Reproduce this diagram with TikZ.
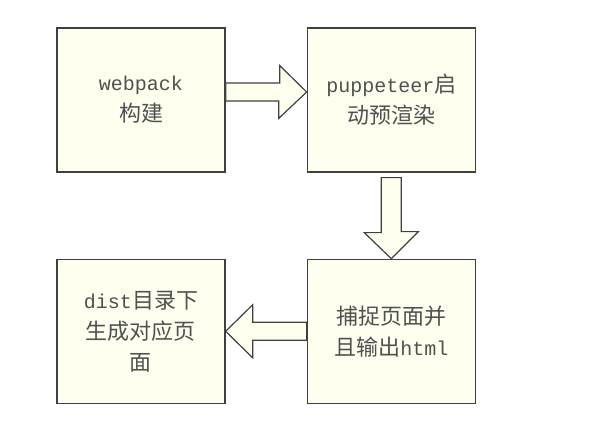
\documentclass[tikz,border=0pt]{standalone}
\usepackage{fontspec}
\setmainfont{Liberation Mono}
\newfontfamily\cjk[Scale=1.1]{Noto Sans CJK SC}
\usepackage{xcolor}
\usepackage{tikz}
\usetikzlibrary{positioning}

\definecolor{boxfill}{HTML}{FFFFF0}
\definecolor{boxline}{HTML}{404040}
\definecolor{boxtext}{HTML}{505050}

\begin{document}
\begin{tikzpicture}[
        x=1pt, y=1pt,
        node distance=81pt,
        % Node styles
        stage/.style={rectangle, draw=boxline, line width=1.3pt, fill=boxfill,
                      minimum width=168pt, minimum height=144pt, inner sep=0pt,
                      align=center, text=boxtext,
                      font=\fontsize{20}{31}\selectfont},
        bigarrow/.style={draw=boxline, line width=1.2pt, fill=boxfill, line join=miter}
    ]
        \useasboundingbox (0,0) rectangle (590,425);

        % Stage boxes
        \node[stage] (build) at (141,325) {webpack\\{\cjk 构建}};
        \node[stage, right=of build] (render) {puppeteer{\cjk 启}\\{\cjk 动预渲染}};
        \node[stage, below=86pt of render] (capture) {{\cjk 捕捉页面并}\\{\cjk 且输出}html};
        \node[stage, left=of capture] (output) {dist{\cjk 目录下}\\{\cjk 生成对应页}\\{\cjk 面}};

        % Block arrows
        \draw[bigarrow] ([yshift=8pt]render.west) -- ++(-27,26.5) -- ++(0,-17.5)
            -- ([yshift=17pt]build.east) -- ([yshift=-1pt]build.east) -- ++(53,0)
            -- ++(0,-17.5) -- cycle;
        \draw[bigarrow] (capture.north) -- ++(-27,26) -- ++(17,0)
            -- ([xshift=-10pt, yshift=-5pt]render.south) -- ([xshift=10pt, yshift=-5pt]render.south)
            -- ++(0,-54) -- ++(17,0) -- cycle;
        \draw[bigarrow] (output.east) -- ++(27,26.5) -- ++(0,-17.5)
            -- ([yshift=9pt]capture.west) -- ([yshift=-9pt]capture.west) -- ++(-54,0)
            -- ++(0,-17.5) -- cycle;
    \end{tikzpicture}
\end{document}
